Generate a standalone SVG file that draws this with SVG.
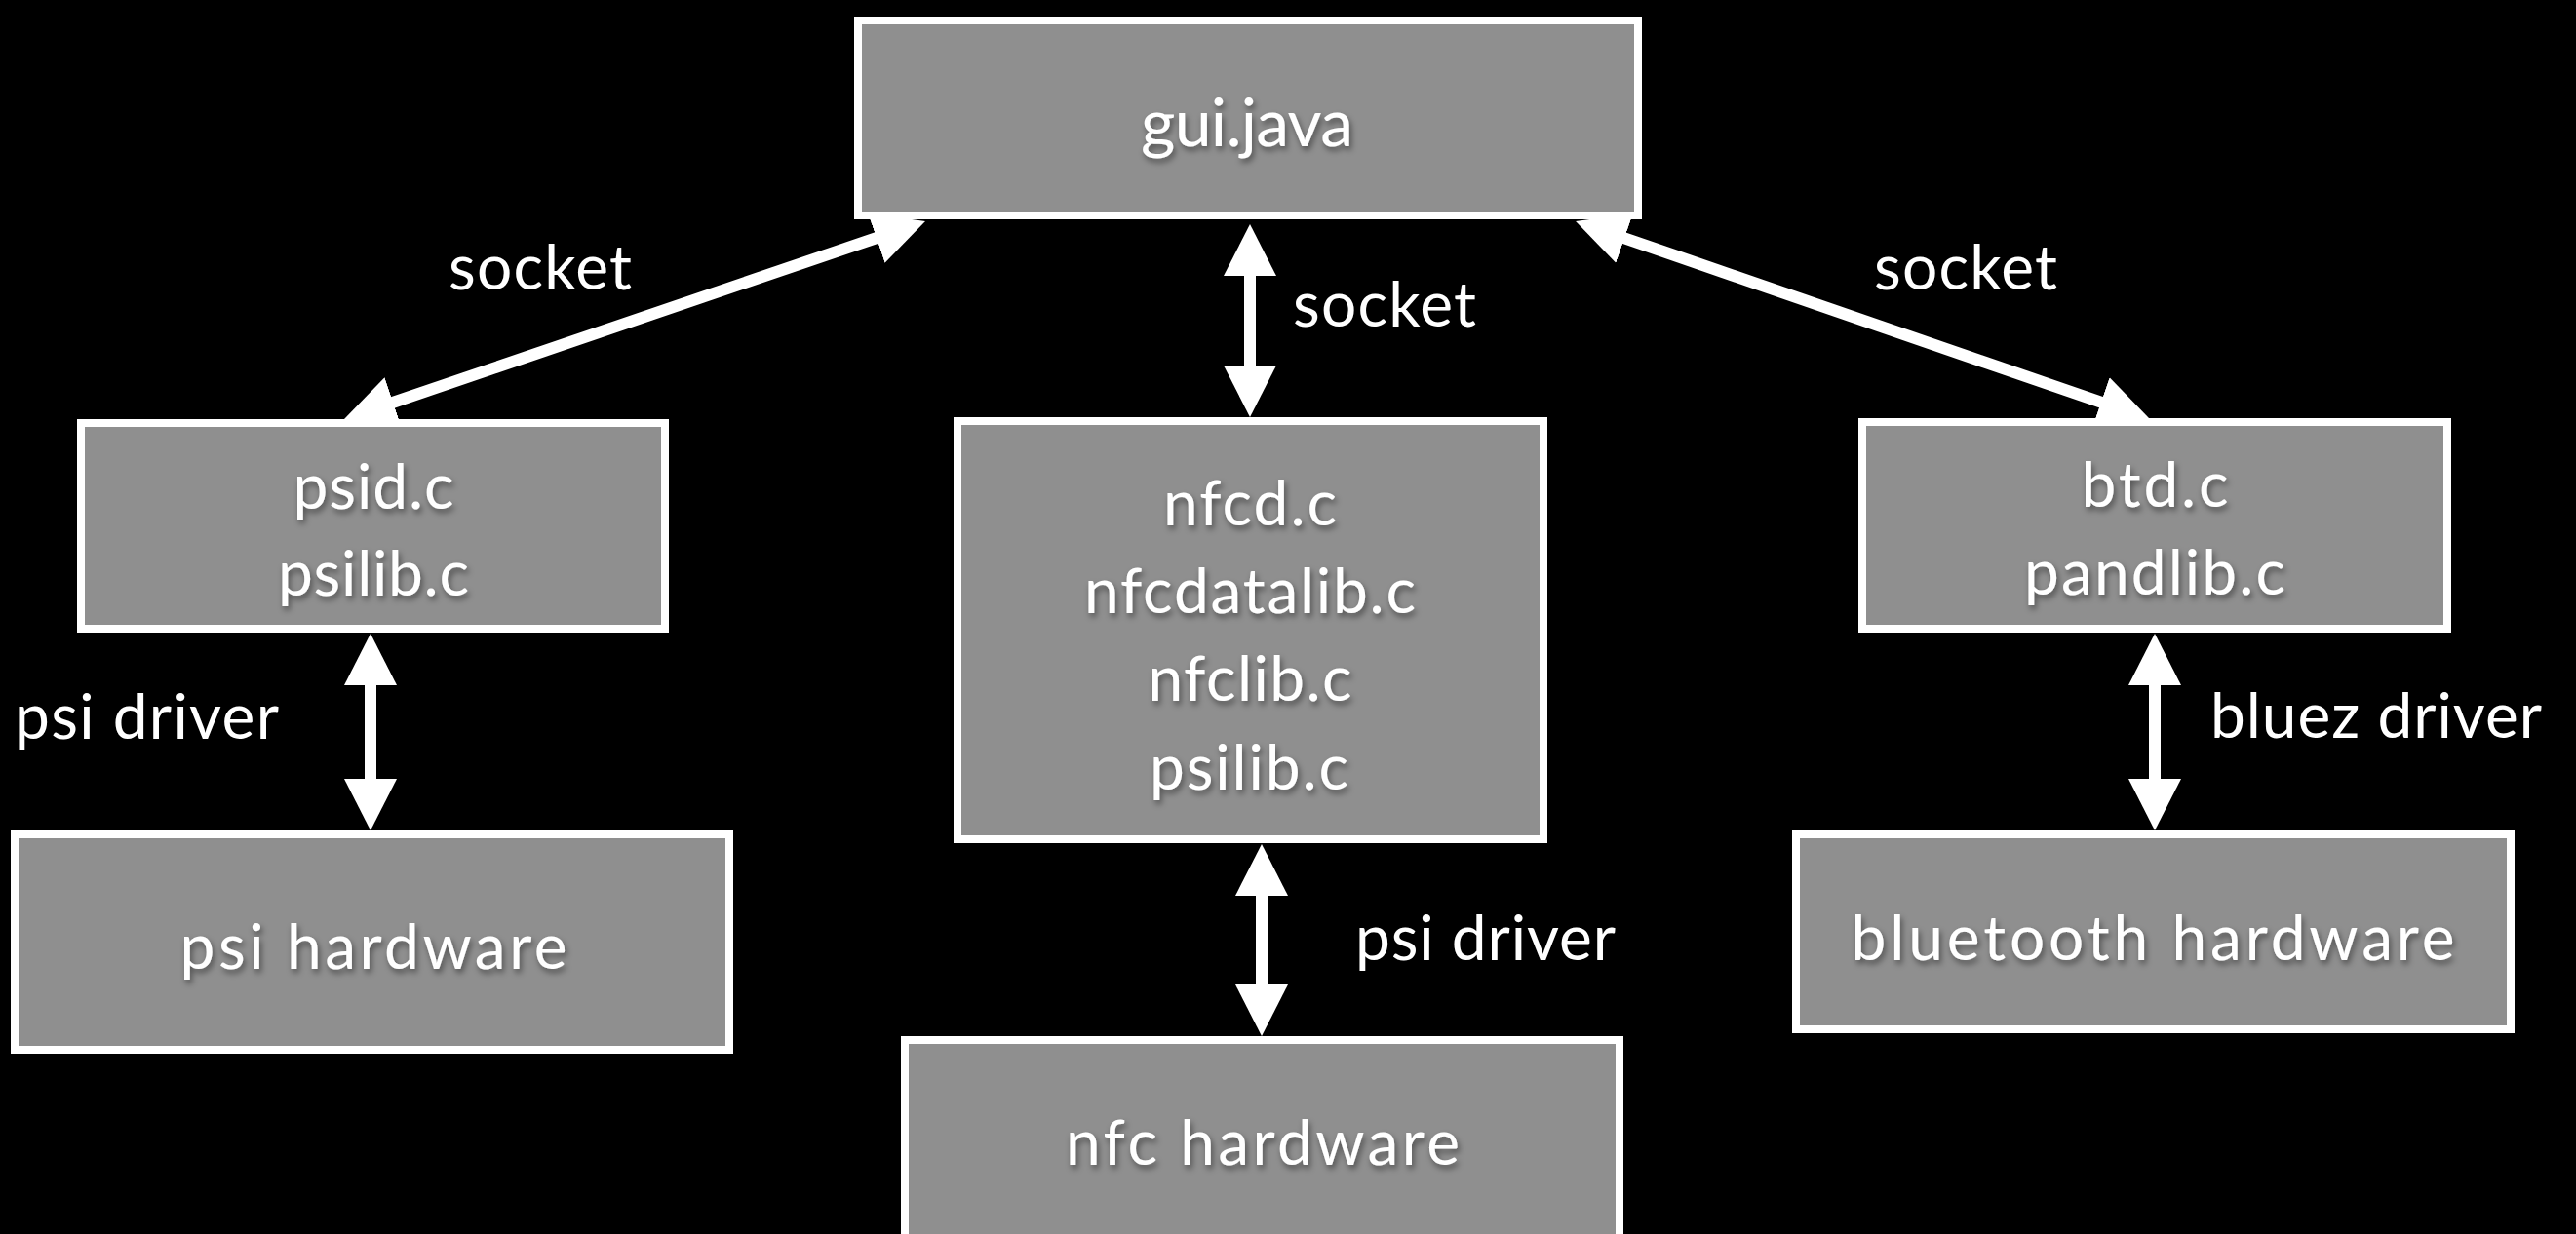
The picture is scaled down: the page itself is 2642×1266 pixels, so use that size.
<svg xmlns="http://www.w3.org/2000/svg" width="2642" height="1266" viewBox="0 0 2642 1266">
  <style>
    .box { fill: #8f8f8f; stroke: #ffffff; stroke-width: 8; }
    .t { font-family: Lato, "Gill Sans", "Open Sans", sans-serif; font-size: 64px; fill: #ffffff; }
    .big { font-size: 68px; }
    .in { text-anchor: middle; filter: url(#shadow); }
    .conn { stroke: #ffffff; stroke-width: 12; fill: none; marker-start: url(#head); marker-end: url(#head); }
  </style>
  <defs>
    <filter id="shadow" x="-20%" y="-40%" width="140%" height="180%">
      <feDropShadow dx="2" dy="4" stdDeviation="3" flood-color="#000000" flood-opacity="0.45"/>
    </filter>
    <marker id="head" viewBox="0 0 53 54" markerWidth="53" markerHeight="54" refX="23" refY="27" markerUnits="userSpaceOnUse" orient="auto-start-reverse">
      <path d="M0,0 L53,27 L0,54 Z" fill="#ffffff"/>
    </marker>
  </defs>
  <rect x="0" y="0" width="2642" height="1266" fill="#000000"/>

  <g id="connectors">
    <line class="conn" x1="920.6" y1="236.7" x2="381.4" y2="420.3"/>
    <line class="conn" x1="1282" y1="260" x2="1282" y2="398"/>
    <line class="conn" x1="1644.4" y1="236.8" x2="2176.6" y2="420.2"/>
    <line class="conn" x1="380" y1="680" x2="380" y2="822"/>
    <line class="conn" x1="1294" y1="896" x2="1294" y2="1033"/>
    <line class="conn" x1="2210" y1="680" x2="2210" y2="822"/>
    <text class="t" x="460" y="297" textLength="188">socket</text>
    <text class="t" x="1326" y="335" textLength="188">socket</text>
    <text class="t" x="1922" y="297" textLength="188">socket</text>
    <text class="t" x="15" y="758" textLength="271">psi driver</text>
    <text class="t" x="1390" y="985" textLength="267">psi driver</text>
    <text class="t" x="2267" y="757" textLength="340">bluez driver</text>
  </g>

  <g id="gui">
    <rect class="box" x="880" y="21" width="800" height="200"/>
    <text class="t big in" x="1279" y="150" textLength="218">gui.java</text>
  </g>

  <g id="psid">
    <rect class="box" x="83" y="434" width="599" height="211"/>
    <text class="t in" x="383" y="522" textLength="165">psid.c</text>
    <text class="t in" x="383" y="611" textLength="196">psilib.c</text>
  </g>

  <g id="nfcd">
    <rect class="box" x="982" y="432" width="601" height="429"/>
    <text class="t in" x="1282" y="539" textLength="178">nfcd.c</text>
    <text class="t in" x="1282" y="629" textLength="340">nfcdatalib.c</text>
    <text class="t in" x="1282" y="719" textLength="209">nfclib.c</text>
    <text class="t in" x="1281" y="810" textLength="204">psilib.c</text>
  </g>

  <g id="btd">
    <rect class="box" x="1910" y="433" width="600" height="212"/>
    <text class="t in" x="2210" y="520" textLength="151">btd.c</text>
    <text class="t in" x="2210" y="610" textLength="268">pandlib.c</text>
  </g>

  <g id="psi_hardware">
    <rect class="box" x="15" y="856" width="733" height="221"/>
    <text class="t in" x="383" y="994" textLength="397">psi hardware</text>
  </g>

  <g id="nfc_hardware">
    <rect class="box" x="928" y="1067" width="733" height="220"/>
    <text class="t in" x="1295" y="1195" textLength="404">nfc hardware</text>
  </g>

  <g id="bluetooth_hardware">
    <rect class="box" x="1842" y="856" width="733" height="200"/>
    <text class="t in" x="2208" y="985" textLength="619">bluetooth hardware</text>
  </g>
</svg>
